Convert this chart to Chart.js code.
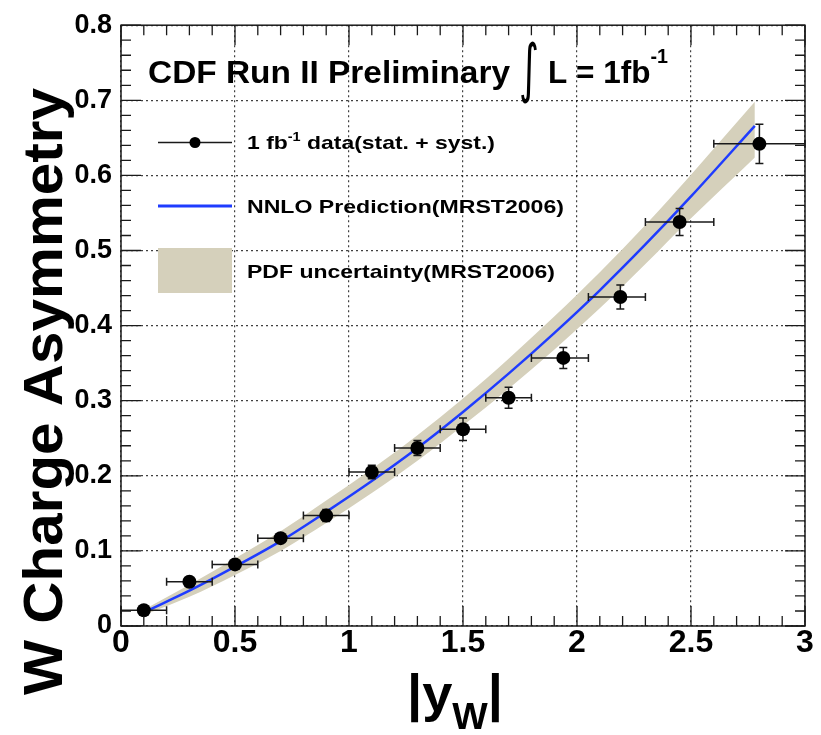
<!DOCTYPE html>
<html>
<head>
<meta charset="utf-8">
<script src="https://cdn.jsdelivr.net/npm/chart.js@4.4.1/dist/chart.umd.min.js"></script>
<style>
  html, body { margin: 0; padding: 0; background: #fff; }
</style>
</head>
<body>
<canvas id="asymChart" width="821" height="735"></canvas>
<script>
// measured W charge asymmetry, bins in |y_W|
const binCenter = [0.10, 0.30, 0.50, 0.70, 0.90, 1.10, 1.30, 1.50, 1.70, 1.94, 2.19, 2.45, 2.80];
const binLow    = [0.00, 0.20, 0.40, 0.60, 0.80, 1.00, 1.20, 1.40, 1.60, 1.80, 2.05, 2.30, 2.60];
const binHigh   = [0.20, 0.40, 0.60, 0.80, 1.00, 1.20, 1.40, 1.60, 1.80, 2.05, 2.30, 2.60, 3.00];
const asym      = [0.021, 0.059, 0.082, 0.117, 0.147, 0.205, 0.237, 0.262, 0.304, 0.357, 0.438, 0.538, 0.642];
const asymErr   = [0.003, 0.004, 0.004, 0.005, 0.008, 0.009, 0.010, 0.015, 0.014, 0.014, 0.016, 0.018, 0.026];

// NNLO prediction (MRST2006) and PDF uncertainty band
const predX    = [0.12, 0.30, 0.50, 0.70, 0.90, 1.10, 1.30, 1.50, 1.70, 1.90, 2.10, 2.30, 2.50, 2.78];
const predY    = [0.021, 0.047, 0.079, 0.113, 0.152, 0.193, 0.237, 0.285, 0.336, 0.390, 0.447, 0.508, 0.572, 0.666];
const bandLow  = [0.017, 0.039, 0.068, 0.100, 0.137, 0.177, 0.220, 0.267, 0.316, 0.368, 0.423, 0.482, 0.543, 0.624];
const bandHigh = [0.025, 0.055, 0.090, 0.126, 0.167, 0.209, 0.254, 0.303, 0.356, 0.412, 0.471, 0.534, 0.601, 0.698];

const xTicksMajor = 0.5, xTicksMinor = 0.1;
const yTicksMajor = 0.1, yTicksMinor = 0.02;

const FONT = '"Liberation Sans", Arial, sans-serif';
const BLUE = '#1f3cff';
const BAND = '#d5d0bb';

function toPoints(xs, ys) {
    return xs.map((x, i) => ({ x: x, y: ys[i] }));
}

// draw a sequence of text runs, squeezed/stretched to a target width
function drawRuns(ctx, runs, x, y, width) {
    let natural = 0;
    runs.forEach(r => { ctx.font = r.font; natural += ctx.measureText(r.t).width; });
    const s = width ? width / natural : 1;
    ctx.save();
    ctx.translate(x, y);
    ctx.scale(s, 1);
    ctx.textAlign = 'left';
    ctx.textBaseline = 'alphabetic';
    let cx = 0;
    runs.forEach(r => {
        ctx.font = r.font;
        ctx.fillText(r.t, cx, r.dy || 0);
        cx += ctx.measureText(r.t).width;
    });
    ctx.restore();
}

const errorBars = {
    id: 'errorBars',
    beforeDatasetDraw(chart, args) {
        if (args.index !== 0) return;
        const ctx = chart.ctx, xs = chart.scales.x, ys = chart.scales.y;
        ctx.save();
        ctx.strokeStyle = '#1a1a1a';
        ctx.lineWidth = 1.5;
        const cap = 4;
        for (let i = 0; i < binCenter.length; i++) {
            const px = xs.getPixelForValue(binCenter[i]);
            const py = ys.getPixelForValue(asym[i]);
            const x0 = xs.getPixelForValue(binLow[i]);
            const x1 = xs.getPixelForValue(binHigh[i]);
            const y0 = ys.getPixelForValue(asym[i] - asymErr[i]);
            const y1 = ys.getPixelForValue(asym[i] + asymErr[i]);
            ctx.beginPath();
            ctx.moveTo(x0, py); ctx.lineTo(x1, py);
            ctx.moveTo(x0, py - cap); ctx.lineTo(x0, py + cap);
            ctx.moveTo(x1, py - cap); ctx.lineTo(x1, py + cap);
            ctx.moveTo(px, y0); ctx.lineTo(px, y1);
            ctx.moveTo(px - cap, y0); ctx.lineTo(px + cap, y0);
            ctx.moveTo(px - cap, y1); ctx.lineTo(px + cap, y1);
            ctx.stroke();
        }
        ctx.restore();
    }
};

const frameAndText = {
    id: 'frameAndText',
    afterDraw(chart) {
        const ctx = chart.ctx, a = chart.chartArea;
        const xs = chart.scales.x, ys = chart.scales.y;
        ctx.save();
        ctx.strokeStyle = '#1a1a1a';
        ctx.lineWidth = 1.5;
        ctx.strokeRect(a.left, a.top, a.right - a.left, a.bottom - a.top);

        // inward ticks on all four sides
        ctx.lineWidth = 1.3;
        ctx.beginPath();
        const nx = Math.round((xs.max - xs.min) / xTicksMinor);
        for (let i = 0; i <= nx; i++) {
            const v = xs.min + i * xTicksMinor;
            const len = (i % Math.round(xTicksMajor / xTicksMinor) === 0) ? 20 : 10;
            const px = xs.getPixelForValue(v);
            ctx.moveTo(px, a.bottom); ctx.lineTo(px, a.bottom - len);
            ctx.moveTo(px, a.top); ctx.lineTo(px, a.top + len);
        }
        const ny = Math.round((ys.max - ys.min) / yTicksMinor);
        for (let i = 0; i <= ny; i++) {
            const v = ys.min + i * yTicksMinor;
            const len = (i % Math.round(yTicksMajor / yTicksMinor) === 0) ? 20 : 10;
            const py = ys.getPixelForValue(v);
            ctx.moveTo(a.left, py); ctx.lineTo(a.left + len, py);
            ctx.moveTo(a.right, py); ctx.lineTo(a.right - len, py);
        }
        ctx.stroke();

        ctx.fillStyle = '#000';

        // title with a tall, thin integral sign
        drawRuns(ctx, [{ t: 'CDF Run II Preliminary', font: 'bold 32px ' + FONT }], 148, 83, 362);
        ctx.save();
        ctx.translate(529, 90);
        ctx.scale(0.6, 1);
        ctx.font = '64px "DejaVu Sans"';
        ctx.textAlign = 'center';
        ctx.fillText('\u222B', 0, 0);
        ctx.restore();
        drawRuns(ctx, [
            { t: 'L = 1fb', font: 'bold 32px ' + FONT },
            { t: '-1', font: 'bold 20px ' + FONT, dy: -20 }
        ], 548, 83, 120);

        // legend
        ctx.strokeStyle = '#1a1a1a';
        ctx.lineWidth = 1.5;
        ctx.beginPath();
        ctx.moveTo(158, 142.5); ctx.lineTo(232, 142.5);
        ctx.stroke();
        ctx.beginPath();
        ctx.arc(195, 142.5, 5.5, 0, Math.PI * 2);
        ctx.fill();
        drawRuns(ctx, [
            { t: '1 fb', font: 'bold 19px ' + FONT },
            { t: '-1', font: 'bold 12px ' + FONT, dy: -8 },
            { t: ' data(stat. + syst.)', font: 'bold 19px ' + FONT }
        ], 247, 149, 248);

        ctx.strokeStyle = BLUE;
        ctx.lineWidth = 3;
        ctx.beginPath();
        ctx.moveTo(158, 206); ctx.lineTo(232, 206);
        ctx.stroke();
        drawRuns(ctx, [{ t: 'NNLO Prediction(MRST2006)', font: 'bold 19px ' + FONT }], 247, 213, 317);

        ctx.fillStyle = BAND;
        ctx.fillRect(158, 248, 74, 45);
        ctx.fillStyle = '#000';
        drawRuns(ctx, [{ t: 'PDF uncertainty(MRST2006)', font: 'bold 19px ' + FONT }], 247, 278, 308);

        // axis titles
        ctx.save();
        ctx.translate(62, 392);
        ctx.rotate(-Math.PI / 2);
        drawRuns(ctx, [{ t: 'W Charge Asymmetry', font: 'bold 55px ' + FONT }], -303, 0, 607);
        ctx.restore();

        drawRuns(ctx, [
            { t: '|y', font: 'bold 52px ' + FONT },
            { t: 'W', font: 'bold 36px ' + FONT, dy: 18 },
            { t: '|', font: 'bold 52px ' + FONT }
        ], 407, 711, 96);

        ctx.restore();
    }
};

const gridStyle = {
    color: 'rgba(0,0,0,0.75)',
    lineWidth: 1.2,
    drawTicks: false
};

new Chart(document.getElementById('asymChart'), {
    type: 'line',
    data: {
        datasets: [
            {
                label: '1 fb-1 data(stat. + syst.)',
                data: toPoints(binCenter, asym),
                showLine: false,
                pointRadius: 7,
                pointBackgroundColor: '#000',
                pointBorderColor: '#000',
                pointBorderWidth: 0,
                order: 0
            },
            {
                label: 'NNLO Prediction(MRST2006)',
                data: toPoints(predX, predY),
                borderColor: BLUE,
                borderWidth: 2.5,
                pointRadius: 0,
                fill: false,
                cubicInterpolationMode: 'monotone',
                order: 1
            },
            {
                label: 'band low',
                data: toPoints(predX, bandLow),
                borderWidth: 0,
                borderColor: 'rgba(0,0,0,0)',
                pointRadius: 0,
                fill: false,
                cubicInterpolationMode: 'monotone',
                order: 2
            },
            {
                label: 'PDF uncertainty(MRST2006)',
                data: toPoints(predX, bandHigh),
                borderWidth: 0,
                borderColor: 'rgba(0,0,0,0)',
                backgroundColor: BAND,
                pointRadius: 0,
                fill: '-1',
                cubicInterpolationMode: 'monotone',
                order: 2
            }
        ]
    },
    options: {
        responsive: false,
        animation: false,
        devicePixelRatio: 1,
        layout: { padding: { top: 20, right: 16, left: 0, bottom: 0 } },
        plugins: {
            legend: { display: false },
            tooltip: { enabled: false }
        },
        scales: {
            x: {
                type: 'linear',
                min: 0,
                max: 3,
                grid: Object.assign({}, gridStyle),
                border: { display: false, dash: [2, 3] },
                ticks: {
                    stepSize: xTicksMajor,
                    autoSkip: false,
                    maxRotation: 0,
                    padding: -2,
                    color: '#000',
                    font: { family: FONT, size: 32, weight: 'bold' },
                    callback: v => v === 0 ? '0' : (Number.isInteger(v) ? String(v) : v.toFixed(1))
                },
                afterFit: s => { s.height = 109; }
            },
            y: {
                min: 0,
                max: 0.8,
                grid: Object.assign({}, gridStyle),
                border: { display: false, dash: [2, 3] },
                ticks: {
                    stepSize: yTicksMajor,
                    padding: 9,
                    color: '#000',
                    font: { family: FONT, size: 27, weight: 'bold' },
                    callback: v => v === 0 ? '0' : v.toFixed(1)
                },
                afterFit: s => { s.width = 121; }
            }
        }
    },
    plugins: [errorBars, frameAndText]
});
</script>
</body>
</html>
